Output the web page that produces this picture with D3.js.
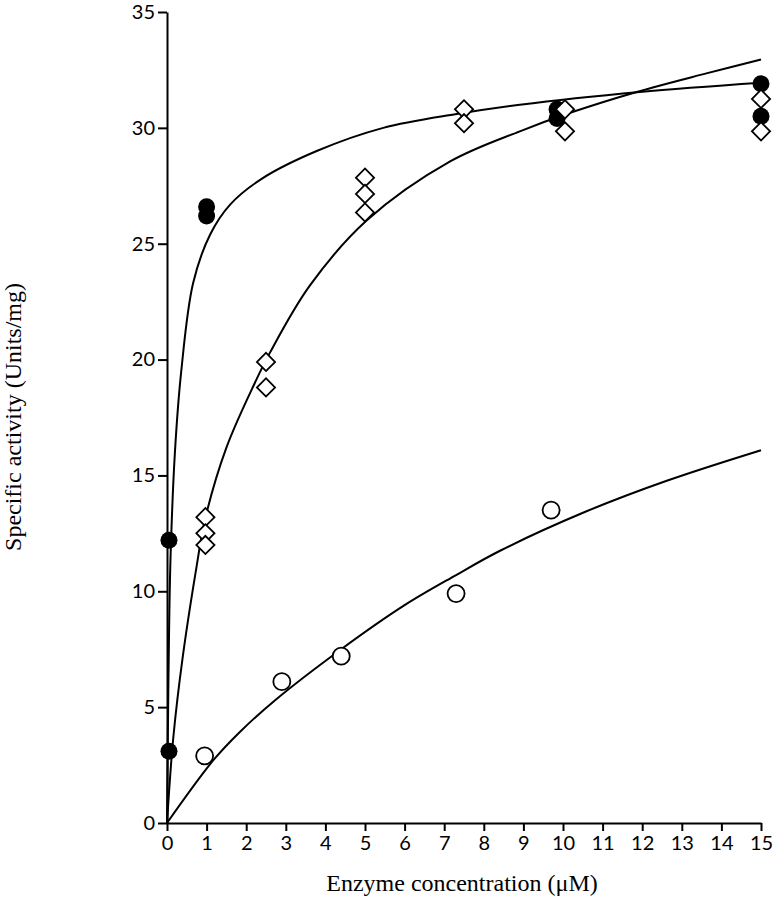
<!DOCTYPE html>
<html>
<head>
<meta charset="utf-8">
<script src="https://cdn.jsdelivr.net/npm/d3@7/dist/d3.min.js"></script>
<style>
    body { margin: 0; background: #fff; }
    .tick text { font-family: Lato, "Open Sans", sans-serif; font-size: 20px; fill: #000; }
    .axisText { font-family: "Liberation Serif", "Times New Roman", serif; font-size: 24px; fill: #000; }
</style>
</head>
<body>
<script>
// Data
// =================================
var xTicks = d3.range(0, 16);
var yTicks = [0, 5, 10, 15, 20, 25, 30, 35];

// filled circles
var filledX = [0.05, 0.05, 1, 1, 9.85, 9.85, 15, 15];
var filledY = [3.1, 12.2, 26.6, 26.2, 30.8, 30.4, 31.9, 30.5];

// open diamonds
var diamondX = [0.97, 0.97, 0.97, 2.5, 2.5, 5, 5, 5, 7.5, 7.5, 10.05, 10.05, 15, 15];
var diamondY = [13.2, 12.5, 12.0, 19.9, 18.8, 27.85, 27.15, 26.35, 30.8, 30.2, 30.8, 29.85, 31.25, 29.85];

// open circles
var openX = [0.95, 2.9, 4.4, 7.3, 9.7];
var openY = [2.9, 6.1, 7.2, 9.9, 13.5];

// fitted curves
var curveFilledX = [0, 0.02, 0.05, 0.09, 0.2, 0.36, 0.66, 1.09, 1.6, 2.39, 3.78, 5.46, 7.31, 8.91, 11.94, 15];
var curveFilledY = [0, 3.5, 8, 11.5, 16, 19.5, 23.3, 25.4, 26.7, 27.8, 29.0, 30.0, 30.6, 31.0, 31.55, 31.95];

var curveDiamondX = [0, 0.16, 0.4, 0.75, 0.96, 1.5, 2.22, 2.6, 3.61, 5.04, 7.15, 8.91, 10.18, 11.86, 13.62, 15];
var curveDiamondY = [0, 3.7, 7.2, 11.1, 13.1, 16.2, 19.0, 20.3, 23.2, 26.0, 28.55, 29.85, 30.65, 31.55, 32.35, 32.95];

var curveOpenX = [0, 1.17, 1.84, 2.73, 4.4, 6, 7.3, 8.41, 10.52, 12.62, 15];
var curveOpenY = [0, 2.71, 3.93, 5.3, 7.5, 9.4, 10.7, 11.75, 13.4, 14.77, 16.09];

// Set up chart
// =================================
var svgWidth = 775;
var svgHeight = 899;

var margin = {
    top: 12,
    right: 14,
    bottom: 76,
    left: 167
};

var chartWidth = svgWidth - margin.left - margin.right;
var chartHeight = svgHeight - margin.top - margin.bottom;

var svg = d3
    .select("body")
    .append("svg")
    .attr("width", svgWidth)
    .attr("height", svgHeight);

var chartGroup = svg.append("g")
    .attr("transform", `translate(${margin.left}, ${margin.top})`);

var xLinearScale = d3.scaleLinear()
    .domain([0, 15])
    .range([0, chartWidth]);

var yLinearScale = d3.scaleLinear()
    .domain([0, 35])
    .range([chartHeight, 0]);

var bottomAxis = d3.axisBottom(xLinearScale)
    .tickValues(xTicks)
    .tickFormat(d3.format("d"))
    .tickSize(8)
    .tickSizeOuter(0)
    .tickPadding(5);

var leftAxis = d3.axisLeft(yLinearScale)
    .tickValues(yTicks)
    .tickSize(9)
    .tickSizeOuter(0)
    .tickPadding(3);

var xAxis = chartGroup.append("g")
    .attr("transform", `translate(0, ${chartHeight})`)
    .call(bottomAxis);

var yAxis = chartGroup.append("g")
    .call(leftAxis);

[xAxis, yAxis].forEach(function (ax) {
    ax.selectAll("path, line")
        .attr("stroke", "#000")
        .attr("stroke-width", 2);
});

// curves
// =================================
function curvePoints(xs, ys) {
    return xs.map((x, i) => [x, ys[i]]);
}

var line = d3.line()
    .x(d => xLinearScale(d[0]))
    .y(d => yLinearScale(d[1]))
    .curve(d3.curveCatmullRom.alpha(0.5));

[
    curvePoints(curveOpenX, curveOpenY),
    curvePoints(curveDiamondX, curveDiamondY),
    curvePoints(curveFilledX, curveFilledY)
].forEach(function (pts) {
    chartGroup.append("path")
        .datum(pts)
        .attr("d", line)
        .attr("fill", "none")
        .attr("stroke", "#000")
        .attr("stroke-width", 2);
});

// markers
// =================================
chartGroup.selectAll(".filled")
    .data(curvePoints(filledX, filledY))
    .enter()
    .append("circle")
    .attr("class", "filled")
    .attr("cx", d => xLinearScale(d[0]))
    .attr("cy", d => yLinearScale(d[1]))
    .attr("r", 8.5)
    .attr("fill", "#000");

var diamond = d3.symbol().type(d3.symbolSquare).size(165);

chartGroup.selectAll(".diamond")
    .data(curvePoints(diamondX, diamondY))
    .enter()
    .append("path")
    .attr("class", "diamond")
    .attr("d", diamond)
    .attr("transform", d => `translate(${xLinearScale(d[0])}, ${yLinearScale(d[1])}) rotate(45)`)
    .attr("fill", "#fff")
    .attr("stroke", "#000")
    .attr("stroke-width", 1.8);

chartGroup.selectAll(".open")
    .data(curvePoints(openX, openY))
    .enter()
    .append("circle")
    .attr("class", "open")
    .attr("cx", d => xLinearScale(d[0]))
    .attr("cy", d => yLinearScale(d[1]))
    .attr("r", 8.5)
    .attr("fill", "#fff")
    .attr("stroke", "#000")
    .attr("stroke-width", 1.8);

// axis labels
// =================================
chartGroup.append("text")
    .attr("transform", "rotate(-90)")
    .attr("x", 0 - (417 - margin.top))
    .attr("y", 21 - margin.left)
    .attr("text-anchor", "middle")
    .attr("class", "axisText")
    .text("Specific activity (Units/mg)");

chartGroup.append("text")
    .attr("x", 462 - margin.left)
    .attr("y", 891 - margin.top)
    .attr("text-anchor", "middle")
    .attr("class", "axisText")
    .text("Enzyme concentration (μM)");
</script>
</body>
</html>
